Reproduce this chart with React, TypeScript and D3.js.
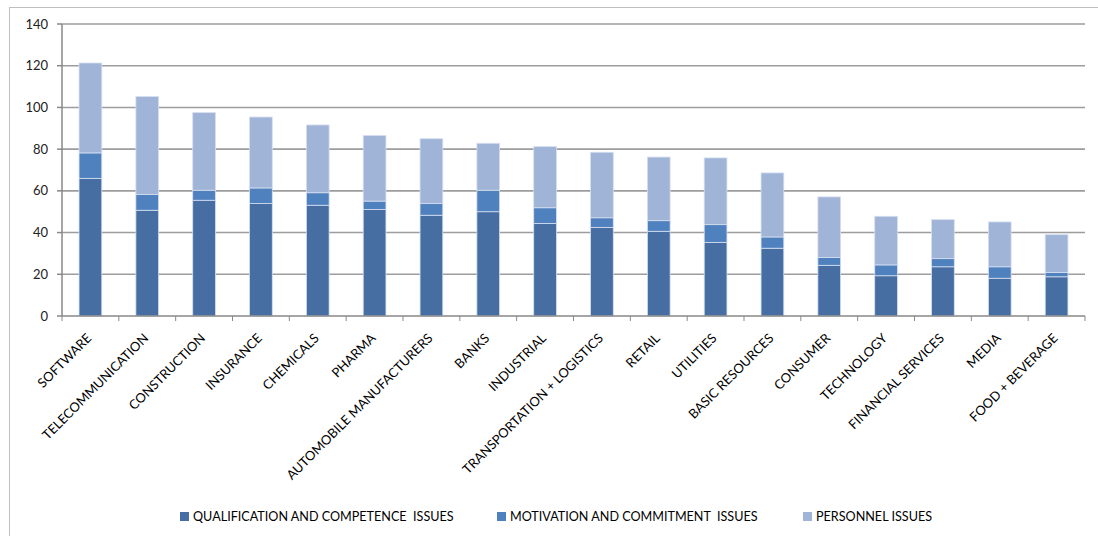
import React from "react";
import * as d3 from "d3";

const categories = [
  "SOFTWARE", "TELECOMMUNICATION", "CONSTRUCTION", "INSURANCE", "CHEMICALS", "PHARMA",
  "AUTOMOBILE MANUFACTURERS", "BANKS", "INDUSTRIAL", "TRANSPORTATION + LOGISTICS", "RETAIL",
  "UTILITIES", "BASIC RESOURCES", "CONSUMER", "TECHNOLOGY", "FINANCIAL SERVICES", "MEDIA",
  "FOOD + BEVERAGE",
];
const qualification = [66, 50.7, 55.5, 53.9, 53.1, 51.1, 48.3, 50, 44.4, 42.5, 40.6, 35.3, 32.5, 24.3, 19.3, 23.6, 18.1, 18.8];
const motivation = [12.2, 7.5, 4.8, 7.5, 6, 4, 5.6, 10.3, 7.5, 4.6, 5.1, 8.5, 5.4, 3.7, 5.2, 3.9, 5.5, 2];
const personnel = [43.1, 47, 37.2, 34, 32.5, 31.5, 31.1, 22.5, 29.3, 31.4, 30.5, 32, 30.7, 29.1, 23.3, 18.7, 21.5, 18.2];
const seriesNames = ["QUALIFICATION AND COMPETENCE  ISSUES", "MOTIVATION AND COMMITMENT  ISSUES", "PERSONNEL ISSUES"];
const yTicks = [0, 20, 40, 60, 80, 100, 120, 140];

const colors = ["#466EA2", "#4F81BE", "#A0B4D7"];
const FONT = "Lato, 'Open Sans', sans-serif";

export default function App() {
  const W = 1098, H = 536;
  const left = 62, right = 1085, top = 24, bottom = 316;
  const x = d3.scaleBand<string>().domain(categories).range([left, right]).paddingInner(0.6).paddingOuter(0.3);
  const xb = d3.scaleBand<string>().domain(categories).range([left, right]);
  const y = d3.scaleLinear().domain([0, 140]).range([bottom, top]);

  const rows = categories.map((c, i) => ({ cat: c, q: qualification[i], m: motivation[i], p: personnel[i] }));
  const stack = d3.stack<any>().keys(["q", "m", "p"])(rows);

  const legendX = [180, 497, 803];

  return (
    <svg width={W} height={H} style={{ position: "absolute", left: 0, top: 0, fontFamily: FONT }}>
      <rect x={0} y={0} width={W} height={H} fill="#fff" />
      <rect x={9.5} y={7.5} width={W + 10} height={H + 10} fill="none" stroke="#bfbfbf" strokeWidth={1} />
      {yTicks.map((t) => (
        <g key={t}>
          {t > 0 && <line x1={left} x2={right} y1={y(t)} y2={y(t)} stroke="#9d9d9d" strokeWidth={1.6} />}
          <line x1={left - 5} x2={left} y1={y(t)} y2={y(t)} stroke="#888" strokeWidth={1.5} />
          <text x={48} y={y(t)} dy="0.35em" textAnchor="end" fontSize={13} fill="#222">{t}</text>
        </g>
      ))}
      {stack.map((s, si) => (
        <g key={si}>
          {s.map((d, i) => (
            <rect key={i} x={x(categories[i])!} width={x.bandwidth()} y={y(d[1])} height={y(d[0]) - y(d[1])}
              fill={colors[si]} stroke="#d6dff0" strokeWidth={0.8} />
          ))}
        </g>
      ))}
      <line x1={left} x2={left} y1={top} y2={bottom} stroke="#888" strokeWidth={1.5} />
      <line x1={left} x2={right} y1={bottom} y2={bottom} stroke="#888" strokeWidth={1.5} />
      {categories.map((c, i) => (
        <line key={"t" + i} x1={xb(c)!} x2={xb(c)!} y1={bottom} y2={bottom + 5} stroke="#888" strokeWidth={1} />
      ))}
      <line x1={right} x2={right} y1={bottom} y2={bottom + 5} stroke="#888" strokeWidth={1} />
      {categories.map((c, i) => {
        const cx = xb(c)! + xb.bandwidth() / 2 + 2;
        const cy = bottom + 23;
        return (
          <text key={"l" + i} transform={`translate(${cx},${cy}) rotate(-45)`} textAnchor="end" fontSize={13} fill="#000">{c}</text>
        );
      })}
      {seriesNames.map((n, i) => (
        <g key={n}>
          <rect x={legendX[i]} y={512} width={9} height={9} fill={colors[i]} />
          <text x={legendX[i] + 13} y={520.5} fontSize={12.6} fill="#000" style={{ whiteSpace: "pre" }}>{n}</text>
        </g>
      ))}
    </svg>
  );
}
